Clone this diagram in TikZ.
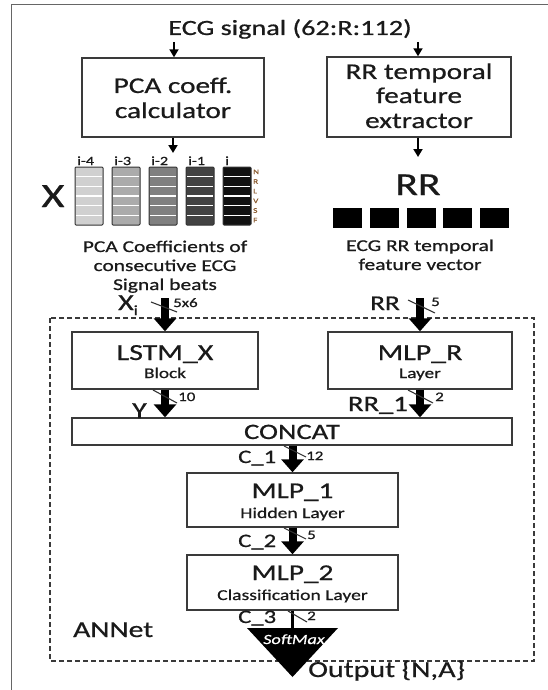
\documentclass[tikz,border=0pt]{standalone}
\usepackage{fontspec}
\setmainfont{Carlito}[FakeStretch=1.3, FakeBold=0.7]
\usetikzlibrary{arrows.meta}
\newcommand{\fsz}[1]{\fontsize{#1}{#1}\selectfont}
\definecolor{ink}{HTML}{1A1A1A}
\definecolor{boxgray}{HTML}{3A3A3A}
\definecolor{framegray}{HTML}{666666}
\definecolor{bargray}{HTML}{333333}
\definecolor{slashgray}{HTML}{333333}
\definecolor{rowlab}{HTML}{8A5A2E}
\definecolor{gA}{HTML}{D0D0D0}
\definecolor{gB}{HTML}{ABABAB}
\definecolor{gC}{HTML}{808080}
\definecolor{gD}{HTML}{424242}
\definecolor{gE}{HTML}{111111}
\begin{document}
\begin{tikzpicture}[x=1pt,y=-1pt,
  box/.style={draw=boxgray, line width=1.4pt, fill=white, inner sep=0pt},
  txt/.style={inner sep=0pt, anchor=base, text=ink},
  txtw/.style={inner sep=0pt, anchor=base west, text=ink},
  txte/.style={inner sep=0pt, anchor=base east, text=ink},
  fat/.style={line width=8pt, draw=black, -{Triangle[width=22pt,length=13pt]}},
  smallarr/.style={line width=1.8pt, draw=black, -{Triangle[width=9pt,length=8pt]}},
  slash/.style={line width=1.1pt, draw=slashgray},
]
\useasboundingbox (0,0) rectangle (548,690);
\fill[white] (0,0) rectangle (548,690);

% outer frame (left and top edges)
\draw[framegray, line width=1.2pt] (11.5,690) -- (11.5,4.5) -- (548,4.5);

% title and feature extraction blocks
\node[txt, font=\fsz{21.7}] (title) at (290,35) {ECG signal (62:R:112)};
\node[box, minimum width=182pt, minimum height=79pt] (pca) at (173,97.5) {};
\node[box, minimum width=184pt, minimum height=80pt] (rrbox) at (419,97) {};
\node[txt, font=\fsz{22.5}] (pcaA) at (173,93) {PCA coeff.};
\node[txt, font=\fsz{22.5}] (pcaB) at (173,118) {calculator};
\node[txt, font=\fsz{22.5}] (rrA) at (419,79) {RR temporal};
\node[txt, font=\fsz{22.5}] (rrB) at (419,103) {feature};
\node[txt, font=\fsz{22.5}] (rrC) at (419,128) {extractor};

\coordinate (tinL) at (174,42);
\coordinate (tinR) at (418,42);
\draw[smallarr] (tinL) -- (tinL |- pca.north);
\draw[smallarr] (tinR) -- (tinR |- rrbox.north);
\coordinate (poutL) at (173,153);
\coordinate (poutR) at (418,157);
\draw[smallarr] (pca.south) -- (poutL);
\draw[smallarr] (poutR |- rrbox.south) -- (poutR);

% PCA coefficient matrix of consecutive beats
\node[txt, font=\fsz{34}] (bigX) at (53,207) {X};
\foreach \k/\c/\t in {0/gA/i-4,1/gB/i-3,2/gC/i-2,3/gD/i-1,4/gE/i} {
  \path[fill=\c, draw=bargray, line width=1pt, rounded corners=1pt]
    ({75+37*\k},167) rectangle ++(28,58);
  \foreach \j in {1,...,5}
    \draw[white, line width=1.3pt] ({76+37*\k},{167+58*\j/6}) -- ++(26,0);
  \node[txtw, font=\fsz{12.5}] (beat\k) at ({77+37*\k},165) {\t};
}
\foreach \j/\t in {0/N,1/R,2/L,3/V,4/S,5/F}
  \node[inner sep=0pt, anchor=west, text=rowlab, font=\fsz{7}] (row\j) at (253,{167+58*(\j+0.5)/6}) {\t};
\node[txt, font=\fsz{16.5}] (capA) at (165,252) {PCA Coefficients of};
\node[txt, font=\fsz{16.5}] (capB) at (165,271) {consecutive ECG};
\node[txt, font=\fsz{16.5}] (capC) at (165,290) {Signal beats};

% RR feature vector
\node[txt, font=\fsz{32}] (bigRR) at (418,195) {RR};
\foreach \k in {0,...,4}
  \fill[black] ({333+36.8*\k},208) rectangle ++(29,20);
\node[txt, font=\fsz{16.5}] (capD) at (420,251) {ECG RR temporal};
\node[txt, font=\fsz{16.5}] (capE) at (420,270) {feature vector};

% ANNet
\draw[boxgray, line width=1.5pt, dash pattern=on 5pt off 3pt] (50,318) rectangle (534,661);
\node[txtw, font=\fsz{22.8}] (annet) at (73,637) {ANNet};

\node[box, minimum width=186pt, minimum height=57pt] (lstm) at (165,360.5) {};
\node[box, minimum width=184pt, minimum height=57pt] (mlpr) at (420,360.5) {};
\node[box, minimum width=440pt, minimum height=27pt] (concat) at (292,431.5) {};
\node[box, minimum width=211pt, minimum height=54pt] (mlpA) at (292.5,500) {};
\node[box, minimum width=211pt, minimum height=55pt] (mlpB) at (292.5,582.5) {};

\node[txt, font=\fsz{23}] (lstmT) at (165,360) {LSTM\_X};
\node[txt, font=\fsz{14.8}] (lstmS) at (165,378) {Block};
\node[txt, font=\fsz{23}] (mlprT) at (420,360) {MLP\_R};
\node[txt, font=\fsz{14.8}] (mlprS) at (420,378) {Layer};
\node[txt, font=\fsz{22}] (concatT) at (292,439) {CONCAT};
\node[txt, font=\fsz{22.5}] (mlpAT) at (292.5,498) {MLP\_1};
\node[txt, font=\fsz{15.1}] (mlpAS) at (292.5,518) {Hidden Layer};
\node[txt, font=\fsz{22.5}] (mlpBT) at (292.5,580) {MLP\_2};
\node[txt, font=\fsz{15.1}] (mlpBS) at (292.5,600) {Classification Layer};

% inputs
\coordinate (xin) at (165,298);
\coordinate (rin) at (420,298);
\draw[fat] (xin) -- (lstm.north);
\draw[fat] (rin) -- (mlpr.north);
\draw[slash] (151,302) -- (177,312);
\draw[slash] (408,300) -- (435,313);
\node[txtw, font=\fsz{23}] (xlab) at (118,310) {X\raisebox{-5pt}{\fsz{14}i}};
\node[txtw, font=\fsz{13}] (xdim) at (173,307) {5x6};
\node[txte, font=\fsz{21}] (rlab) at (400,310) {RR};
\node[txtw, font=\fsz{13}] (rdim) at (431,306) {5};

% into CONCAT
\draw[fat] (lstm.south) -- (lstm.south |- concat.north);
\draw[fat] (mlpr.south) -- (mlpr.south |- concat.north);
\draw[slash] (153,390) -- (177,403);
\draw[slash] (408,390) -- (433,403);
\node[txtw, font=\fsz{23}] (ylab) at (132,418) {Y};
\node[txtw, font=\fsz{13}] (ydim) at (178,401) {10};
\node[txte, font=\fsz{22}] (r1lab) at (408,411) {RR\_1};
\node[txtw, font=\fsz{13}] (r1dim) at (435,401) {2};

% dense layers
\draw[fat] (concat.south -| mlpA.north) -- (mlpA.north);
\draw[fat] (mlpA.south) -- (mlpB.north);
\draw[slash] (284,446) -- (306,457);
\draw[slash] (284,528) -- (306,539);
\node[txtw, font=\fsz{19}] (c1lab) at (238,463) {C\_1};
\node[txtw, font=\fsz{13}] (c1dim) at (306,460) {12};
\node[txtw, font=\fsz{19}] (c2lab) at (238,547) {C\_2};
\node[txtw, font=\fsz{13}] (c2dim) at (307,539) {5};

% softmax output
\coordinate (smtop) at (292.5,628);
\draw[black, line width=3pt] (mlpB.south) -- (smtop);
\fill[black] (247,628) -- (338,628) -- (292.5,677) -- cycle;
\draw[slash] (288,611) -- (307,622);
\node[txtw, font=\fsz{19}] (c3lab) at (238,623) {C\_3};
\node[txtw, font=\fsz{13}] (c3dim) at (307,620) {2};
\node[inner sep=0pt, anchor=base, text=white, font=\fsz{14}\itshape] (smx) at (294,644) {SoftMax};
\node[txtw, font=\fsz{23}] (outlab) at (308,677) {Output \{N,A\}};
\end{tikzpicture}
\end{document}
